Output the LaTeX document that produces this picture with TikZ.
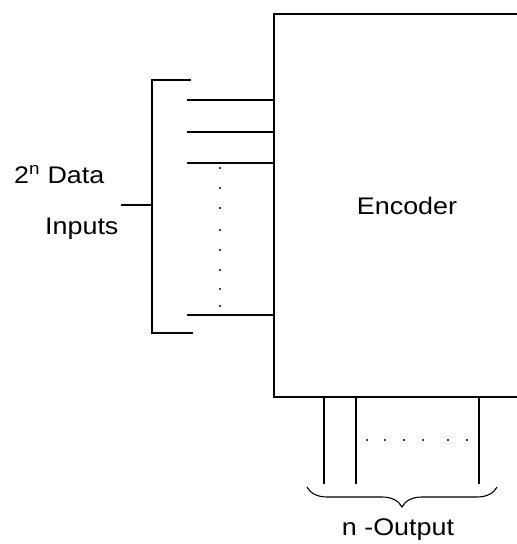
\documentclass[tikz,border=0pt]{standalone}
\usepackage{fontspec}
\setmainfont[FakeStretch=1.12]{Liberation Sans}
\usetikzlibrary{decorations.pathreplacing}

\tikzset{
	wire/.style = {line width=1.4pt, black},
	dotline/.style = {fill=black, inner sep=0pt, minimum size=2.2pt, circle},
	lbl/.style = {font=\fontsize{24}{27}\selectfont, inner sep=0pt}
}

\begin{document}
\begin{tikzpicture}[x=1pt, y=-1pt]
	\useasboundingbox (0,0) rectangle (517,544);
	\clip (0,0) rectangle (517,544);
	% encoder block (right side runs off the page)
	\node[draw, wire, fill=white, minimum width=266pt, minimum height=383pt, lbl] (enc) at (407,205.5) {Encoder};
	% input lines
	\foreach \y [count=\i] in {100,132,163,315}
	{
		\coordinate (in\i) at (187,\y);
		\draw[wire] (in\i) -- (in\i -| enc.west);
	}
	\foreach \y in {168,188,208,230,250,270,289,306}
	{
		\node[dotline] at (220,\y) {};
	}
	% bracket of the inputs
	\coordinate (bt) at (191,80);
	\coordinate (bb) at (193,333);
	\coordinate (bm) at (121,205);
	\draw[wire] (bt) -- (152,80) -- (152,333) -- (bb);
	\draw[wire] (bm) -- (152,205);
	\node[lbl, anchor=west] (data) at (14,175) {2\textsuperscript{n} Data};
	\node[lbl, anchor=west] (inputs) at (45,229) {Inputs};
	% output lines
	\foreach \x [count=\i] in {324,356,479}
	{
		\coordinate (out\i) at (\x,484);
		\draw[wire] (out\i |- enc.south) -- (out\i);
	}
	\foreach \x in {367,385,404,423,448,467}
	{
		\node[dotline] at (\x,440) {};
	}
	\coordinate (brl) at (307,487);
	\coordinate (brr) at (497,487);
	\draw[line width=1.1pt, decorate, decoration={brace, mirror, amplitude=20pt}] (brl) -- (brr);
	\node[lbl] (nout) at (398,530) {n -Output};
\end{tikzpicture}
\end{document}
